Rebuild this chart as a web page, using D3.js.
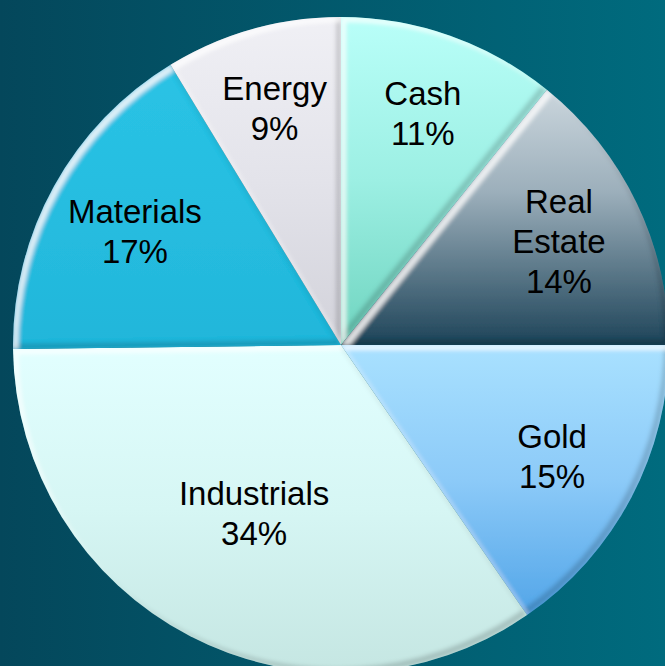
<!DOCTYPE html>
<html>
<head>
<meta charset="utf-8">
<script src="https://cdn.jsdelivr.net/npm/d3@7"></script>
<style>
  html, body { margin: 0; padding: 0; overflow: hidden; }
</style>
</head>
<body>
<div id="pie"></div>
<script>
// data (shares in %, clockwise from 12 o'clock)
var categories = ["Cash", "Real Estate", "Gold", "Industrials", "Materials", "Energy"];
var shares = [10.8, 14.2, 15.4, 34.4, 16.5, 8.7];

// fill gradients (top -> bottom) per slice
var sliceColors = [
  ["#b9fff9", "#9cefe3", "#6fd4bf"],
  ["#cbd6dd", "#9cafbb", "#1e4459"],
  ["#a9e1ff", "#8ccaf8", "#52a5e8"],
  ["#e2ffff", "#d6f6f4", "#c5e6e2"],
  ["#2ac3e5", "#26bde0", "#22b6da"],
  ["#f0f0f5", "#e3e3ea", "#d2d2da"]
];

var svgWidth = 665;
var svgHeight = 666;
var cx = 341, cy = 345, radius = 328;

var svg = d3.select("#pie")
  .append("svg")
  .attr("width", svgWidth)
  .attr("height", svgHeight);

var defs = svg.append("defs");

// background
var bg = defs.append("linearGradient")
  .attr("id", "bg")
  .attr("x1", "0").attr("y1", "0").attr("x2", "1").attr("y2", "0");
bg.append("stop").attr("offset", "0").attr("stop-color", "#04475b");
bg.append("stop").attr("offset", "1").attr("stop-color", "#006b7e");

svg.append("rect")
  .attr("width", svgWidth)
  .attr("height", svgHeight)
  .attr("fill", "url(#bg)");

sliceColors.forEach(function(c, i) {
  var g = defs.append("linearGradient")
    .attr("id", "slice" + i)
    .attr("x1", "0").attr("y1", "0").attr("x2", "0").attr("y2", "1");
  g.append("stop").attr("offset", "0").attr("stop-color", c[0]);
  g.append("stop").attr("offset", i == 1 ? "0.4" : "0.5").attr("stop-color", c[1]);
  g.append("stop").attr("offset", "1").attr("stop-color", c[2]);
});

// bevel: light on the top-left edges, dark on the bottom-right edges
var f = defs.append("filter")
  .attr("id", "bevel")
  .attr("x", "-5%").attr("y", "-5%").attr("width", "110%").attr("height", "110%");
f.append("feOffset").attr("in", "SourceAlpha").attr("dx", 5).attr("dy", 5).attr("result", "offA");
f.append("feComposite").attr("in", "SourceAlpha").attr("in2", "offA").attr("operator", "out").attr("result", "hiBand");
f.append("feGaussianBlur").attr("in", "hiBand").attr("stdDeviation", 2).attr("result", "hiBlur");
f.append("feFlood").attr("flood-color", "#ffffff").attr("flood-opacity", 0.75).attr("result", "white");
f.append("feComposite").attr("in", "white").attr("in2", "hiBlur").attr("operator", "in").attr("result", "hi1");
f.append("feComposite").attr("in", "hi1").attr("in2", "SourceAlpha").attr("operator", "in").attr("result", "hi");
f.append("feOffset").attr("in", "SourceAlpha").attr("dx", -5).attr("dy", -5).attr("result", "offB");
f.append("feComposite").attr("in", "SourceAlpha").attr("in2", "offB").attr("operator", "out").attr("result", "shBand");
f.append("feGaussianBlur").attr("in", "shBand").attr("stdDeviation", 2).attr("result", "shBlur");
f.append("feFlood").attr("flood-color", "#000000").attr("flood-opacity", 0.35).attr("result", "black");
f.append("feComposite").attr("in", "black").attr("in2", "shBlur").attr("operator", "in").attr("result", "sh1");
f.append("feComposite").attr("in", "sh1").attr("in2", "SourceAlpha").attr("operator", "in").attr("result", "sh");
var merge = f.append("feMerge");
merge.append("feMergeNode").attr("in", "SourceGraphic");
merge.append("feMergeNode").attr("in", "sh");
merge.append("feMergeNode").attr("in", "hi");

var chartGroup = svg.append("g")
  .attr("transform", `translate(${cx}, ${cy})`);

var pie = d3.pie().sort(null).value(d => d);
var arcs = pie(shares);

var arc = d3.arc()
  .innerRadius(0)
  .outerRadius(radius);

chartGroup.selectAll(".slice")
  .data(arcs)
  .enter()
  .append("path")
  .attr("class", "slice")
  .attr("d", arc)
  .attr("fill", (d, i) => `url(#slice${i})`)
  .attr("filter", "url(#bevel)");

// labels ("best fit"): wide slices get their label pulled toward the centre
var lineH = 40;
var labels = chartGroup.selectAll(".label")
  .data(arcs)
  .enter()
  .append("text")
  .attr("class", "label")
  .attr("text-anchor", "middle")
  .style("font-family", "'Liberation Sans', Arial, sans-serif")
  .style("font-size", "33px")
  .attr("fill", "#000");

labels.each(function(d, i) {
  var mid = (d.startAngle + d.endAngle) / 2;
  var span = (d.endAngle - d.startAngle) * 180 / Math.PI;
  var lr = radius * (0.75 - 0.0022 * Math.max(0, span - 45));
  var x = lr * Math.sin(mid);
  var y = -lr * Math.cos(mid);
  var lines = categories[i].split(" ").concat([Math.round(shares[i]) + "%"]);
  var t = d3.select(this);
  lines.forEach(function(s, j) {
    t.append("tspan")
      .attr("x", x)
      .attr("y", y + (j - (lines.length - 1) / 2) * lineH + 12)
      .text(s);
  });
});
</script>
</body>
</html>
